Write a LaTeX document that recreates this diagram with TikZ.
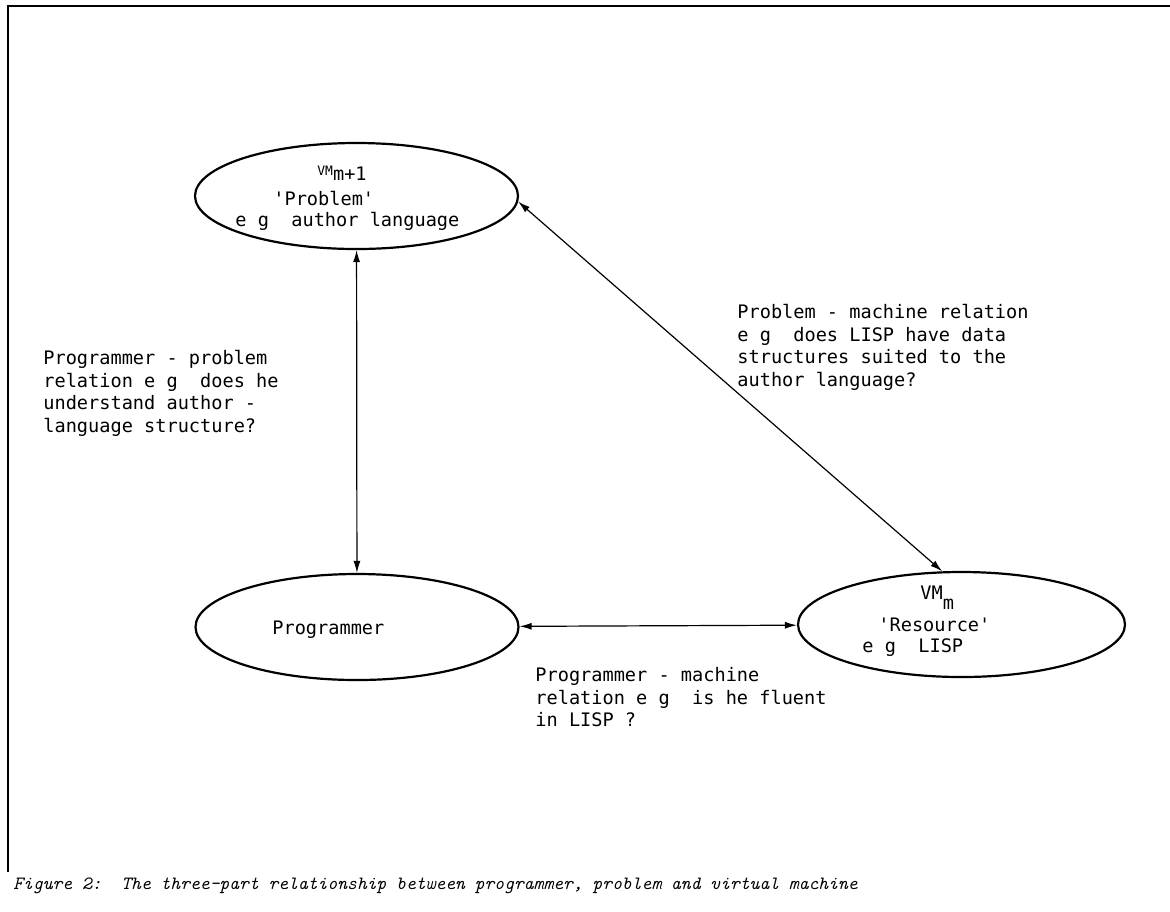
\documentclass[tikz,border=0pt]{standalone}
\usepackage{fontspec}
\usetikzlibrary{arrows.meta, positioning, shapes.geometric}
\newfontfamily\diagfont{DejaVu Sans Mono}

\begin{document}
\begin{tikzpicture}[>={Latex[length=6pt, width=3.5pt]}, x=0.5pt, y=-0.5pt,
  vm/.style={draw, ellipse, line width=1.1pt, minimum width=161.5pt,
             minimum height=53pt, inner sep=0pt},
  vmtext/.style={font=\diagfont\fontsize{9.3}{10.25}\selectfont,
                 align=left, inner sep=0pt},
  note/.style={font=\diagfont\fontsize{9.3}{11.25}\selectfont,
               align=left, inner sep=0pt, anchor=north west},
  rel/.style={<->, line width=0.6pt}]

  \useasboundingbox (0,0) rectangle (1170,911);

  % Page frame
  \draw[line width=0.9pt] (8,872) -- (8,6) -- (1170,6);

  % Ellipses
  \node[vm] (prob) at (356.5,196) {};
  \node[vm] (prog) at (357,627) {};
  \node[vm, minimum width=163.5pt, minimum height=52.5pt] (res) at (961.5,624.5) {};

  % Text inside the ellipses
  \node[vmtext, anchor=north west] (probtxt) at (235,166)
    {\hspace*{41pt}{\fontsize{6.5}{6.5}\selectfont VM}\raisebox{-2.5pt}{m+1}\\[4.75pt]
     \hspace*{19pt}'Problem'\\
     e~g~~author language};
  \node[vmtext, anchor=base west] (progtxt) at (272,634) {Programmer};
  \node[vmtext, anchor=north west] (restxt) at (862,586)
    {\hspace*{29pt}VM\raisebox{-5pt}[0pt][0pt]{m}\\[5.75pt]
     \hspace*{8pt}'Resource'\\
     e~g~~LISP};

  % Relations
  \draw[rel] (prob) -- (prog);
  \draw[rel] (prog) -- (res);
  \draw[rel] (prob.-2) -- (res.110);

  \node[note] (pplab) at (43,350)
    {Programmer - problem\\relation e~g~~does he\\understand author -\\language structure?};
  \node[note] (pmlab) at (737,304)
    {Problem - machine relation\\e~g~~does LISP have data\\structures suited to the\\author language?};
  \node[note] (prmlab) at (535,667)
    {Programmer - machine\\relation e~g~~is he fluent\\in LISP ?};

  % Caption
  \node[font=\ttfamily\itshape\fontsize{9.35}{11}\selectfont, anchor=base west,
        inner sep=0pt] (caption) at (13,889)
    {Figure 2:~~The three-part relationship between programmer, problem and virtual machine};
\end{tikzpicture}
\end{document}
